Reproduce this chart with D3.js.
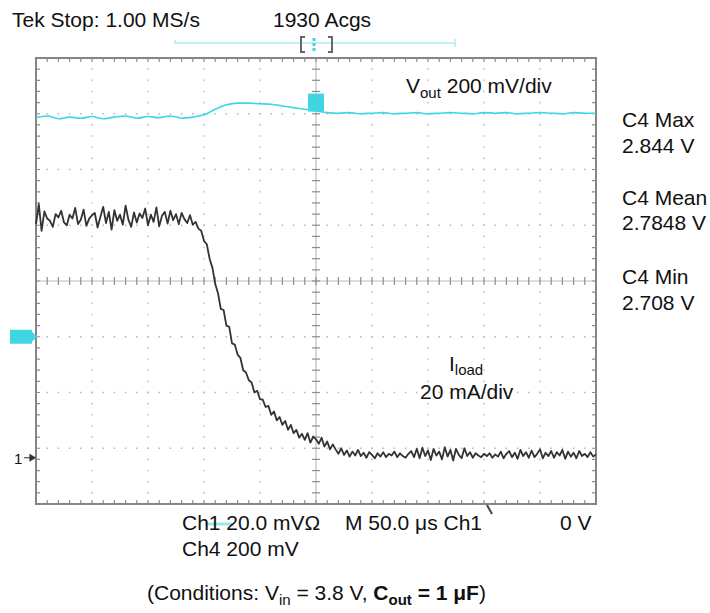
<!DOCTYPE html>
<html>
<head>
<meta charset="utf-8">
<script src="https://cdn.jsdelivr.net/npm/d3@7"></script>
<style>
  body { margin: 0; background: #fff; }
  svg text { font-family: 'Liberation Sans', Arial, sans-serif; fill: #111; font-size: 21px; }
</style>
</head>
<body>
<svg id="chart"></svg>
<script>
// Time base is 50 us/div, trigger in the middle, 8 vertical divisions
const timeDomain = [-250, 250];
const divDomain = [0, 8];
const gridTimes = [-250, -200, -150, -100, -50, 0, 50, 100, 150, 200, 250];
const gridDivs = [0, 1, 2, 3, 4, 5, 6, 7, 8];

// Ch1 (Iload), one sample every 2.5 us starting at -250 us, in divisions
const ch1Start = -250, ch1Step = 2.5;
const ch1Values = [
  5.02, 5.38, 4.90, 5.25, 5.12, 5.08, 4.97, 5.20, 5.14, 5.26,
  5.05, 5.00, 5.19, 5.12, 5.31, 5.02, 5.10, 5.28, 4.99, 5.12,
  5.18, 5.22, 4.96, 5.15, 5.33, 5.04, 5.24, 4.92, 5.27, 5.08,
  5.19, 5.01, 5.35, 5.10, 4.97, 5.23, 5.05, 5.21, 5.13, 5.30,
  5.00, 5.19, 5.06, 5.32, 4.98, 5.17, 5.24, 5.03, 5.26, 5.09,
  5.20, 5.02, 5.22, 5.11, 5.04, 5.18, 5.01,
  5.06, 4.94, 4.90, 4.72, 4.66, 4.40, 4.24, 3.95, 3.78, 3.50,
  3.48, 3.20, 3.18, 2.88, 2.86, 2.68, 2.62, 2.40, 2.36, 2.22,
  2.18, 2.00, 2.03, 1.88, 1.87, 1.74, 1.76, 1.60, 1.66, 1.50,
  1.56, 1.42, 1.49, 1.33, 1.42, 1.27, 1.33, 1.19, 1.26, 1.15,
  1.27, 1.10, 1.21, 1.16, 1.08, 1.19, 1.03, 1.12, 0.98, 1.07,
  0.98, 0.90, 1.00, 0.88, 0.96, 0.85, 0.94, 0.87, 0.97, 0.86,
  0.92, 0.83, 0.93, 0.88, 0.82, 0.91, 0.85, 0.93, 0.84, 0.90,
  0.87, 0.94, 0.84, 0.91, 0.86, 0.83, 0.90, 0.95, 0.84, 0.99,
  0.82, 1.01, 0.86, 0.96, 0.79, 0.99, 0.87, 0.94, 0.80, 1.02,
  0.85, 0.97, 0.78, 0.99, 0.88, 0.82, 1.00, 0.86, 0.93, 0.83,
  0.91, 0.87, 0.84, 0.90, 0.86, 0.91, 0.83, 0.89, 0.85, 0.94,
  0.82, 0.90, 0.95, 0.84, 0.92, 0.81, 0.97, 0.86, 0.93, 0.83,
  0.96, 0.84, 0.90, 0.98, 0.82, 0.92, 0.86, 0.95, 0.83, 0.93,
  0.87, 0.97, 0.81, 0.94, 0.85, 0.92, 0.82, 0.95, 0.86, 0.90,
  0.84, 0.93, 0.85, 0.89
];

// Ch4 (Vout) one sample every 10 us, in divisions
const ch4Start = -250, ch4Step = 10;
const ch4Values = [
  6.93, 6.96, 6.91, 6.94, 6.92, 6.95, 6.91, 6.94, 6.96, 6.92,
  6.95, 6.93, 6.96, 6.92, 6.94, 6.98, 7.08, 7.16, 7.19, 7.19,
  7.18, 7.17, 7.14, 7.11, 7.08, 7.05, 7.02, 7.01, 7.02, 7.00,
  7.01, 7.02, 7.00, 7.01, 7.02, 7.00, 7.01, 7.02, 7.01, 7.00,
  7.02, 7.01, 7.02, 7.00, 7.01, 7.02, 7.01, 7.00, 7.02, 7.01,
  7.01
];

// channel reference markers (divisions)
const ch1Ground = 0.83, ch4Ground = 3, ch4Trigger = 7.2;

const measureLabels = ['C4 Max', '2.844 V', 'C4 Mean', '2.7848 V', 'C4 Min', '2.708 V'];
const bottomLabels = ['Ch1 20.0 mV\u03A9', 'M 50.0 \u03BCs Ch1', '0 V', 'Ch4 200 mV'];

const w = 710, h = 613, cyan = '#3fd6e2', traceColor = '#333';
const margin = { left: 36, right: 114, top: 58, bottom: 109 };

const chart = d3.select('#chart')
  .attr('width', w)
  .attr('height', h);

const x = d3.scaleLinear().domain(timeDomain).range([margin.left, w - margin.right]);
const y = d3.scaleLinear().domain(divDomain).range([h - margin.bottom, margin.top]);

const x0 = x(timeDomain[0]), x1 = x(timeDomain[1]);
const y0 = y(divDomain[0]), y1 = y(divDomain[1]);

// dotted graticule
const grid = chart.append('g');
grid.selectAll('.vgrid')
  .data(gridTimes.slice(1, -1).filter(d => d !== 0))
  .enter()
  .append('line')
  .attr('x1', d => x(d)).attr('x2', d => x(d))
  .attr('y1', y1).attr('y2', y0)
  .attr('stroke', '#b9b9b9')
  .attr('stroke-width', 1.3)
  .attr('stroke-dasharray', '1.6,9.55')
  .attr('stroke-dashoffset', 0.8);

grid.selectAll('.hgrid')
  .data(gridDivs.slice(1, -1).filter(d => d !== 4))
  .enter()
  .append('line')
  .attr('x1', x0).attr('x2', x1)
  .attr('y1', d => y(d)).attr('y2', d => y(d))
  .attr('stroke', '#b9b9b9')
  .attr('stroke-width', 1.3)
  .attr('stroke-dasharray', '1.6,9.6')
  .attr('stroke-dashoffset', 0.8);

// center cross with minor ticks
const minorTimes = d3.range(timeDomain[0], timeDomain[1] + 0.1, 10);
const minorDivs = d3.range(divDomain[0], divDomain[1] + 0.01, 0.2);

grid.append('line')
  .attr('x1', x0).attr('x2', x1)
  .attr('y1', y(4)).attr('y2', y(4))
  .attr('stroke', '#bdbdbd').attr('stroke-width', 1.2);
grid.append('line')
  .attr('x1', x(0)).attr('x2', x(0))
  .attr('y1', y1).attr('y2', y0)
  .attr('stroke', '#bdbdbd').attr('stroke-width', 1.2);

grid.selectAll('.cxtick')
  .data(minorTimes)
  .enter()
  .append('line')
  .attr('x1', d => x(d)).attr('x2', d => x(d))
  .attr('y1', y(4) - 4).attr('y2', y(4) + 4)
  .attr('stroke', '#8d8d8d').attr('stroke-width', 1.2);

grid.selectAll('.cytick')
  .data(minorDivs)
  .enter()
  .append('line')
  .attr('x1', x(0) - 4).attr('x2', x(0) + 4)
  .attr('y1', d => y(d)).attr('y2', d => y(d))
  .attr('stroke', '#8d8d8d').attr('stroke-width', 1.2);

// ticks along the border
grid.selectAll('.btick')
  .data(minorTimes)
  .enter()
  .append('path')
  .attr('d', d => `M${x(d)},${y1}v4M${x(d)},${y0}v-4`)
  .attr('stroke', '#8d8d8d').attr('stroke-width', 1.2);

grid.selectAll('.ltick')
  .data(minorDivs)
  .enter()
  .append('path')
  .attr('d', d => `M${x0},${y(d)}h4M${x1},${y(d)}h-4`)
  .attr('stroke', '#8d8d8d').attr('stroke-width', 1.2);

grid.append('rect')
  .attr('x', x0).attr('y', y1)
  .attr('width', x1 - x0).attr('height', y0 - y1)
  .attr('fill', 'none')
  .attr('stroke', '#858585')
  .attr('stroke-width', 2);

// traces
const ch1Data = ch1Values.map((v, i) => ({ t: ch1Start + i * ch1Step, v: v }));
const ch4Data = ch4Values.map((v, i) => ({ t: ch4Start + i * ch4Step, v: v }));

const line = d3.line()
  .x(d => x(d.t))
  .y(d => y(d.v));

chart.append('path')
  .datum(ch4Data)
  .attr('d', line.curve(d3.curveMonotoneX))
  .attr('fill', 'none')
  .attr('stroke', cyan)
  .attr('stroke-width', 1.6);

chart.append('path')
  .datum(ch1Data)
  .attr('d', line.curve(d3.curveLinear))
  .attr('fill', 'none')
  .attr('stroke', traceColor)
  .attr('stroke-width', 1.8)
  .attr('stroke-linejoin', 'round');

// markers: ch4 trigger level on the center line, ch4 / ch1 ground on the left
chart.append('rect')
  .attr('x', x(0) - 8).attr('y', y(ch4Trigger) - 9)
  .attr('width', 16).attr('height', 18)
  .attr('fill', cyan);

chart.append('rect')
  .attr('x', 10).attr('y', y(ch4Ground) - 7)
  .attr('width', 22).attr('height', 14)
  .attr('fill', cyan);
chart.append('path')
  .attr('d', `M32,${y(ch4Ground) - 5}L37,${y(ch4Ground)}L32,${y(ch4Ground) + 5}Z`)
  .attr('fill', cyan);

chart.append('text')
  .attr('x', 14).attr('y', y(ch1Ground) + 6)
  .style('font-size', '15px')
  .text('1');
chart.append('path')
  .attr('d', `M24,${y(ch1Ground)}H30M30,${y(ch1Ground) - 3}L35,${y(ch1Ground)}L30,${y(ch1Ground) + 3}Z`)
  .attr('stroke', '#333').attr('fill', '#333').attr('stroke-width', 1.2);

// record bar at the top
const bar = chart.append('g');
bar.append('path')
  .attr('d', 'M175,40V43H455M455,39V47')
  .attr('fill', 'none')
  .attr('stroke', '#a9eef2')
  .attr('stroke-width', 1.5);
bar.append('path')
  .attr('d', 'M305,37H301V52H305M328,37H332V52H328')
  .attr('fill', 'none')
  .attr('stroke', '#666')
  .attr('stroke-width', 2);
bar.append('line')
  .attr('x1', 314).attr('x2', 314)
  .attr('y1', 38).attr('y2', 51)
  .attr('stroke', cyan)
  .attr('stroke-width', 3)
  .attr('stroke-dasharray', '3,2');

// trigger position mark below the graticule
chart.append('path')
  .attr('d', 'M487,505L492,514')
  .attr('stroke', '#444')
  .attr('stroke-width', 2);

// smear under the Ch1 readout
chart.append('line')
  .attr('x1', 205).attr('x2', 232)
  .attr('y1', 524).attr('y2', 524)
  .attr('stroke', '#9de8ee')
  .attr('stroke-width', 3);

// texts
chart.append('text').attr('x', 12).attr('y', 27).text('Tek Stop: 1.00 MS/s');
chart.append('text').attr('x', 273).attr('y', 27).text('1930 Acgs');

const vout = chart.append('text').attr('x', 406).attr('y', 93);
vout.append('tspan').text('V');
vout.append('tspan').attr('dy', 5).style('font-size', '15px').text('out');
vout.append('tspan').attr('dy', -5).text(' 200 mV/div');

const measureY = [127, 153, 205, 230, 284, 310];
chart.selectAll('.measure')
  .data(measureLabels)
  .enter()
  .append('text')
  .attr('x', 622)
  .attr('y', (d, i) => measureY[i])
  .text(d => d);

const iload = chart.append('text').attr('x', 449).attr('y', 371);
iload.append('tspan').text('I');
iload.append('tspan').attr('dy', 4).style('font-size', '15px').text('load');
chart.append('text').attr('x', 420).attr('y', 399).text('20 mA/div');

const bottomPos = [[182, 530], [345, 530], [560, 530], [182, 556]];
chart.selectAll('.readout')
  .data(bottomLabels)
  .enter()
  .append('text')
  .attr('x', (d, i) => bottomPos[i][0])
  .attr('y', (d, i) => bottomPos[i][1])
  .text(d => d);

const cond = chart.append('text').attr('x', 147).attr('y', 600);
cond.append('tspan').text('(Conditions: V');
cond.append('tspan').attr('dy', 5).style('font-size', '15px').text('in');
cond.append('tspan').attr('dy', -5).text(' = 3.8 V, ');
cond.append('tspan').style('font-weight', 'bold').text('C');
cond.append('tspan').attr('dy', 5).style('font-size', '15px').style('font-weight', 'bold').text('out');
cond.append('tspan').attr('dy', -5).style('font-weight', 'bold').text(' = 1 \u03BCF');
cond.append('tspan').text(')');
</script>
</body>
</html>
